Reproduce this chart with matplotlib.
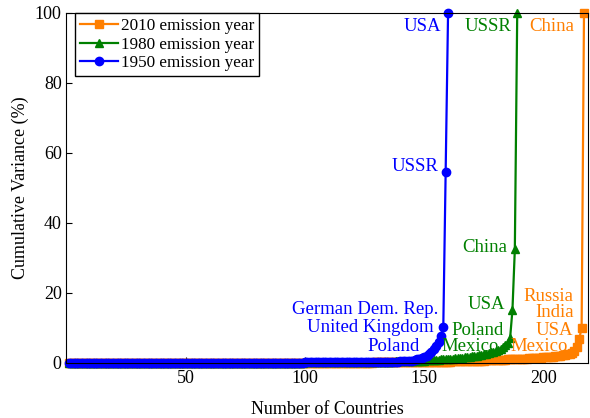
import numpy as np
import matplotlib
matplotlib.use("Agg")
import matplotlib.pyplot as plt

plt.rcParams['font.family'] = ['Liberation Serif', 'DejaVu Serif']

# cumulative variance (%) per number of countries
cum_1950 = [
    0.00, 0.00, 0.00, 0.00, 0.00, 0.00, 0.00, 0.00, 0.00, 0.00, 0.00, 0.00, 0.00, 0.00, 0.00, 0.00, 0.00, 0.00, 0.00, 0.00,
    0.00, 0.00, 0.00, 0.00, 0.00, 0.00, 0.00, 0.00, 0.00, 0.00, 0.01, 0.01, 0.01, 0.01, 0.01, 0.01, 0.01, 0.01, 0.01, 0.01,
    0.01, 0.01, 0.01, 0.01, 0.01, 0.01, 0.01, 0.01, 0.01, 0.01, 0.02, 0.02, 0.02, 0.02, 0.02, 0.02, 0.02, 0.02, 0.02, 0.02,
    0.02, 0.02, 0.02, 0.02, 0.02, 0.03, 0.03, 0.03, 0.03, 0.03, 0.04, 0.04, 0.04, 0.04, 0.04, 0.05, 0.05, 0.05, 0.05, 0.05,
    0.05, 0.06, 0.06, 0.07, 0.07, 0.08, 0.08, 0.09, 0.09, 0.10, 0.10, 0.11, 0.11, 0.12, 0.12, 0.13, 0.13, 0.14, 0.14, 0.15,
    0.15, 0.16, 0.16, 0.17, 0.17, 0.18, 0.18, 0.19, 0.19, 0.20, 0.20, 0.21, 0.21, 0.22, 0.22, 0.23, 0.23, 0.24, 0.24, 0.25,
    0.25, 0.26, 0.26, 0.27, 0.27, 0.28, 0.28, 0.29, 0.30, 0.31, 0.32, 0.33, 0.34, 0.35, 0.36, 0.37, 0.38, 0.40, 0.42, 0.44,
    0.47, 0.50, 0.55, 0.60, 0.70, 0.85, 1.00, 1.20, 1.45, 1.75, 2.10, 2.60, 3.20, 4.00, 4.90, 6.00, 7.80, 10.30, 54.70, 100.0,
]
cum_1980 = [
    0.00, 0.00, 0.00, 0.00, 0.00, 0.00, 0.00, 0.00, 0.00, 0.00, 0.00, 0.00, 0.00, 0.00, 0.00, 0.00, 0.00, 0.00, 0.00, 0.00,
    0.00, 0.00, 0.00, 0.00, 0.00, 0.00, 0.00, 0.00, 0.00, 0.00, 0.01, 0.01, 0.01, 0.01, 0.01, 0.01, 0.01, 0.01, 0.01, 0.01,
    0.01, 0.01, 0.01, 0.01, 0.01, 0.01, 0.01, 0.01, 0.01, 0.01, 0.02, 0.02, 0.02, 0.02, 0.02, 0.02, 0.02, 0.02, 0.02, 0.02,
    0.02, 0.02, 0.02, 0.02, 0.02, 0.03, 0.03, 0.03, 0.03, 0.03, 0.04, 0.04, 0.04, 0.04, 0.04, 0.05, 0.05, 0.05, 0.05, 0.05,
    0.05, 0.06, 0.06, 0.07, 0.07, 0.08, 0.08, 0.09, 0.09, 0.10, 0.10, 0.11, 0.11, 0.12, 0.12, 0.13, 0.13, 0.14, 0.14, 0.15,
    0.15, 0.16, 0.16, 0.17, 0.17, 0.18, 0.18, 0.19, 0.19, 0.20, 0.20, 0.21, 0.21, 0.22, 0.22, 0.23, 0.23, 0.24, 0.24, 0.25,
    0.26, 0.27, 0.28, 0.29, 0.30, 0.31, 0.32, 0.33, 0.34, 0.35, 0.36, 0.37, 0.38, 0.39, 0.40, 0.41, 0.42, 0.43, 0.44, 0.45,
    0.47, 0.49, 0.51, 0.53, 0.55, 0.58, 0.61, 0.64, 0.67, 0.70, 0.74, 0.78, 0.82, 0.86, 0.90, 0.95, 1.00, 1.05, 1.10, 1.15,
    1.20, 1.26, 1.32, 1.38, 1.45, 1.52, 1.60, 1.68, 1.77, 1.86, 1.96, 2.07, 2.19, 2.32, 2.46, 2.62, 2.80, 3.00, 3.22, 3.46,
    3.75, 4.10, 4.50, 5.00, 5.60, 7.00, 15.20, 32.50, 100.0,
]
cum_2010 = [
    0.00, 0.00, 0.00, 0.00, 0.00, 0.00, 0.00, 0.00, 0.00, 0.00, 0.00, 0.00, 0.00, 0.00, 0.00, 0.00, 0.00, 0.00, 0.00, 0.00,
    0.00, 0.00, 0.00, 0.00, 0.00, 0.00, 0.00, 0.00, 0.00, 0.00, 0.01, 0.01, 0.01, 0.01, 0.01, 0.01, 0.01, 0.01, 0.01, 0.01,
    0.01, 0.01, 0.01, 0.01, 0.01, 0.01, 0.01, 0.01, 0.01, 0.01, 0.02, 0.02, 0.02, 0.02, 0.02, 0.02, 0.02, 0.02, 0.02, 0.02,
    0.02, 0.02, 0.02, 0.02, 0.02, 0.02, 0.02, 0.02, 0.02, 0.02, 0.03, 0.03, 0.03, 0.03, 0.03, 0.03, 0.03, 0.03, 0.03, 0.03,
    0.03, 0.03, 0.03, 0.03, 0.03, 0.04, 0.04, 0.04, 0.04, 0.04, 0.05, 0.05, 0.05, 0.05, 0.05, 0.06, 0.06, 0.06, 0.06, 0.06,
    0.07, 0.07, 0.07, 0.07, 0.07, 0.08, 0.08, 0.08, 0.08, 0.08, 0.09, 0.09, 0.09, 0.09, 0.09, 0.10, 0.10, 0.10, 0.10, 0.10,
    0.11, 0.11, 0.12, 0.12, 0.13, 0.13, 0.14, 0.14, 0.15, 0.15, 0.16, 0.16, 0.17, 0.17, 0.18, 0.18, 0.19, 0.19, 0.20, 0.20,
    0.21, 0.22, 0.23, 0.24, 0.25, 0.26, 0.27, 0.28, 0.29, 0.30, 0.31, 0.32, 0.33, 0.34, 0.35, 0.36, 0.37, 0.38, 0.39, 0.40,
    0.42, 0.44, 0.46, 0.48, 0.50, 0.52, 0.54, 0.56, 0.58, 0.60, 0.62, 0.64, 0.66, 0.68, 0.70, 0.73, 0.76, 0.79, 0.82, 0.85,
    0.88, 0.91, 0.94, 0.97, 1.00, 1.03, 1.06, 1.09, 1.12, 1.15, 1.19, 1.23, 1.27, 1.31, 1.35, 1.40, 1.45, 1.50, 1.55, 1.60,
    1.66, 1.72, 1.78, 1.85, 1.92, 2.00, 2.10, 2.20, 2.32, 2.45, 2.60, 2.85, 3.30, 4.70, 6.80, 10.10, 100.0,
]

# country labels: (text, x, y, horizontal alignment)
labels_1950 = [("USA", 157.2, 96.0, 'right'), ("USSR", 156.0, 56.0, 'right'),
               ("German Dem. Rep.", 156.0, 15.2, 'right'), ("United Kingdom", 154.0, 10.0, 'right'),
               ("Poland", 148.0, 4.7, 'right')]
labels_1980 = [("USSR", 186.6, 96.0, 'right'), ("China", 185.0, 33.1, 'right'),
               ("USA", 184.0, 16.6, 'right'), ("Poland", 161.5, 9.4, 'left'),
               ("Mexico", 157.3, 4.7, 'left')]
labels_2010 = [("China", 213.0, 96.0, 'right'), ("Russia", 212.6, 18.9, 'right'),
               ("India", 212.6, 14.3, 'right'), ("USA", 212.6, 9.4, 'right'),
               ("Mexico", 210.4, 4.7, 'right')]

c2010 = '#FF7F00'
c1980 = '#008000'
c1950 = '#0000FF'

fig = plt.figure(figsize=(5.9, 4.18), dpi=100)
ax = fig.add_axes([0.1127, 0.1316, 0.884, 0.8374])

series = [(cum_2010, c2010, 's', '2010 emission year', labels_2010),
          (cum_1980, c1980, '^', '1980 emission year', labels_1980),
          (cum_1950, c1950, 'o', '1950 emission year', labels_1950)]

for vals, col, mk, lab, names in series:
    xs = np.arange(1, len(vals) + 1)
    ax.plot(xs, vals, color=col, marker=mk, markersize=6, linewidth=1.6,
            label=lab, clip_on=False)
    for txt, tx, ty, ha in names:
        ax.text(tx, ty, txt, color=col, fontsize=13.5, ha=ha, va='center')

ax.set_xlim(0, 218.7)
ax.set_ylim(0, 100)
ax.set_xticks([50, 100, 150, 200])
ax.set_yticks([0, 20, 40, 60, 80, 100])
ax.tick_params(direction='in', labelsize=13, length=4, top=False, right=False)
ax.tick_params(axis='x', pad=5)
ax.set_xlabel("Number of Countries", fontsize=13, labelpad=10)
ax.set_ylabel("Cumulative Variance (%)", fontsize=13)

leg = ax.legend(loc='upper left', bbox_to_anchor=(0.016, 1.0), borderaxespad=0,
                fontsize=12.3, fancybox=False, framealpha=1, edgecolor='black',
                handlelength=2.2, handletextpad=0.2, borderpad=0.3, labelspacing=0.15)
leg.get_frame().set_linewidth(1.0)

plt.savefig("out.png", dpi=100)
